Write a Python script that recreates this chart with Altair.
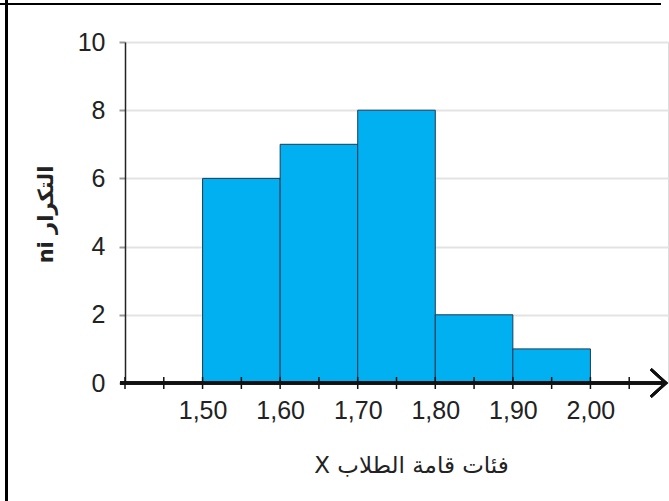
import altair as alt
import pandas as pd

# Histogram data
bin_start = [1.50, 1.60, 1.70, 1.80, 1.90]
bin_end = [1.60, 1.70, 1.80, 1.90, 2.00]
counts = [6, 7, 8, 2, 1]

x_tick_values = [1.40, 1.45, 1.50, 1.55, 1.60, 1.65, 1.70, 1.75, 1.80, 1.85,
                 1.90, 1.95, 2.00, 2.05]
x_label_values = [1.50, 1.60, 1.70, 1.80, 1.90, 2.00]
y_tick_values = [0, 2, 4, 6, 8, 10]

x_title = "X فئات قامة الطلاب"
y_title = "ni التكرار"

bars_df = pd.DataFrame({"start": bin_start, "end": bin_end, "n": counts})
ticks_df = pd.DataFrame({"v": x_tick_values})

W, H = 543, 341
NUM_FONT = "Liberation Sans Narrow, Liberation Sans, Arial, sans-serif"
AR_FONT = "DejaVu Sans, Noto Sans, sans-serif"

xscale = alt.Scale(domain=[1.40, 2.10], nice=False, zero=False)
yscale = alt.Scale(domain=[0, 10], nice=False)

bars = alt.Chart(bars_df).mark_rect(
    color="#00B0F0", stroke="#1F3B57", strokeWidth=1
).encode(
    x=alt.X("start:Q", scale=xscale,
            axis=alt.Axis(values=x_label_values, format=".2f",
                          labelExpr="replace(datum.label, '.', ',')",
                          domain=False, ticks=False, grid=False,
                          labelFont=NUM_FONT, labelFontSize=25,
                          labelColor="#222222", labelPadding=15,
                          title=x_title, titleFont=AR_FONT, titleFontSize=23,
                          titleFontWeight="normal", titleColor="#222222",
                          titleX=286, titleY=82, titleBaseline="middle",
                          titleAnchor="middle")),
    x2="end:Q",
    y=alt.Y("n:Q", scale=yscale,
            axis=alt.Axis(values=y_tick_values, domain=True,
                          domainColor="#222222", domainWidth=1.5,
                          ticks=True, tickSize=6, tickColor="#999999",
                          tickWidth=2, grid=True, gridColor="#E3E3E3",
                          gridWidth=2, labelFont=NUM_FONT, labelFontSize=25,
                          labelColor="#222222", labelPadding=14,
                          title=y_title, titleFont=AR_FONT, titleFontSize=21,
                          titleFontWeight="bold", titleColor="#222222",
                          titleAngle=-90, titleX=-79, titleY=172,
                          titleBaseline="middle", titleAlign="center")),
    y2=alt.datum(0),
)

# x axis line with arrow
axis_line = alt.Chart(bars_df).mark_rule(color="#111111", strokeWidth=3).encode(
    x=alt.value(-5), x2=alt.value(541), y=alt.datum(0, scale=yscale) if False else alt.value(H)
)

arrow = alt.Chart(bars_df).mark_point(
    shape="M -1.1,-1 L 0,0 L -1.1,1", filled=False, stroke="#111111",
    strokeWidth=2.5, size=760, opacity=1
).encode(x=alt.value(541), y=alt.value(H))

xticks = alt.Chart(ticks_df).mark_rule(color="#111111", strokeWidth=1.5).encode(
    x=alt.X("v:Q", scale=xscale),
    y=alt.value(H - 6), y2=alt.value(H + 6)
)

# image frame (left and top borders)
frame_left = alt.Chart(bars_df).mark_rule(color="#000000", strokeWidth=3).encode(
    x=alt.value(-118.5), y=alt.value(-42), y2=alt.value(459)
)
frame_top = alt.Chart(bars_df).mark_rule(color="#000000", strokeWidth=2).encode(
    x=alt.value(-125), x2=alt.value(536), y=alt.value(-38)
)

chart = alt.layer(bars, xticks, axis_line, arrow, frame_left, frame_top).properties(
    width=W, height=H,
    autosize=alt.AutoSizeParams(type="none"),
    padding={"left": 125, "top": 42, "right": 1, "bottom": 118},
).configure_view(stroke=None).configure(background="white")

chart.save("out.html", embed_options={"renderer": "svg", "actions": False})
